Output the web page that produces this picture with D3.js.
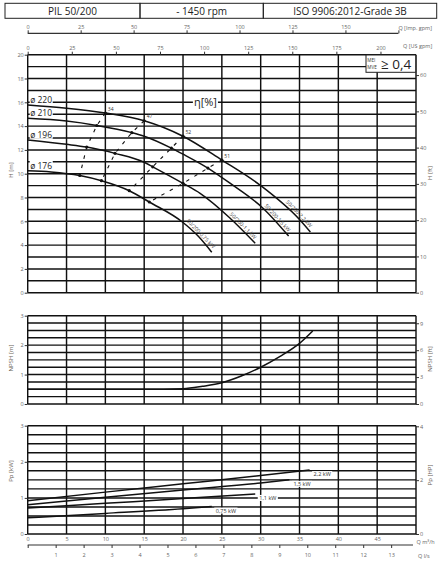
<!DOCTYPE html>
<html>
<head>
<meta charset="utf-8">
<script src="https://cdn.jsdelivr.net/npm/d3@7"></script>
<style>
  body { margin: 0; background: #fff; }
  text { font-family: "Open Sans", sans-serif; }
</style>
</head>
<body>
<div id="chart"></div>
<script>
// ---- data ----
const header = ['PIL 50/200', '- 1450 rpm', 'ISO 9906:2012-Grade 3B'];
const diameters = ['ø 220', 'ø 210', 'ø 196', 'ø 176'];
const motors = ['50/200-2,2 kW', '50/200-1,5 kW', '50/200-1,1 kW', '50/200-0,75 kW'];

// Q [m3/h], H [m]
const head_220 = [[0, 15.77], [5, 15.5], [10, 15.1], [15, 14.45], [20, 13.15], [25, 11.15], [30, 9.0], [35, 6.15], [36.4, 5.1]];
const head_210 = [[0, 14.65], [5, 14.42], [8.9, 14.05], [13.4, 13.45], [15, 13.15], [18.5, 12.15], [20, 11.64], [23.2, 10.47], [26, 9.22], [30.3, 7.1], [33.6, 4.76]];
const head_196 = [[0, 12.83], [5, 12.47], [7.6, 12.24], [11.24, 11.71], [15, 10.96], [16.1, 10.58], [20, 9.19], [22.2, 8.35], [26, 6.3], [29.3, 4.15]];
const head_176 = [[0, 10.25], [3, 10.15], [6.7, 9.85], [9.5, 9.41], [13.08, 8.57], [15.66, 7.62], [20, 5.9], [22, 4.72], [23.7, 3.4]];

// iso-efficiency points (one on each diameter, 220 -> 176)
const eta_values = ['34', '47', '52', '51'];
const eta_34 = [[10, 15.1], [8.9, 14.05], [7.6, 12.24], [6.7, 9.85]];
const eta_47 = [[15, 14.45], [13.4, 13.45], [11.24, 11.71], [9.5, 9.41]];
const eta_52 = [[20, 13.15], [18.5, 12.15], [16.1, 10.58], [13.08, 8.57]];
const eta_51 = [[25, 11.15], [23.2, 10.47], [20, 9.19], [15.66, 7.62]];

// NPSH [m]
const npsh_q = [0, 5, 10, 15, 20, 22.5, 25, 27.5, 30, 32.5, 35, 36.7];
const npsh_m = [0.5, 0.5, 0.5, 0.5, 0.52, 0.6, 0.72, 0.95, 1.25, 1.62, 2.06, 2.48];

// Pp [kW]
const power_labels = ['2,2 kW', '1,5 kW', '1,1 kW', '0,75 kW'];
const power_22 = [[0, 0.92], [10, 1.16], [20, 1.39], [30, 1.62], [36.3, 1.77]];
const power_15 = [[0, 0.81], [10, 1.02], [20, 1.22], [30, 1.41], [33.7, 1.5]];
const power_11 = [[0, 0.72], [10, 0.85], [20, 0.98], [29.3, 1.11]];
const power_075 = [[0, 0.45], [10, 0.57], [20, 0.7], [23.7, 0.76]];

// tick labels
const q_ticks = [0, 5, 10, 15, 20, 25, 30, 35, 40, 45];
const ls_ticks = [0, 1, 2, 3, 4, 5, 6, 7, 8, 9, 10, 11, 12, 13];
const us_ticks = [0, 25, 50, 75, 100, 125, 150, 175, 200];
const imp_ticks = [0, 25, 50, 75, 100, 125, 150, 175];
const h_ticks = [0, 2, 4, 6, 8, 10, 12, 14, 16, 18, 20];
const ft_ticks = [0, 10, 20, 30, 40, 50, 60];
const npsh_ticks = [0, 1, 2, 3];
const npsh_ft_ticks = [0, 3, 6, 9];
const power_ticks = [0, 1, 2, 3];
const hp_ticks = [0, 2, 4];

// ---- layout ----
const width = 446, height = 570;
const font = '"Open Sans", sans-serif';
const tick_color = '#666';
const title_color = '#6b6358';
const plain = d => d;

const svg = d3.select('#chart').append('svg')
    .attr('width', width)
    .attr('height', height);

// scales
const x_scale = d3.scaleLinear().domain([0, 50]).range([27.7, 416]);
const x_us = d3.scaleLinear().domain([0, 50 * 4.40287]).range(x_scale.range());
const x_imp = d3.scaleLinear().domain([0, 50 * 3.66615]).range(x_scale.range());
const x_ls = d3.scaleLinear().domain([0, 50 / 3.6]).range(x_scale.range());

const y_head = d3.scaleLinear().domain([0, 20]).range([292.7, 54.7]);
const y_head_ft = d3.scaleLinear().domain([0, 20 * 3.28084]).range(y_head.range());
const y_npsh = d3.scaleLinear().domain([0, 3]).range([404, 315.7]);
const y_npsh_ft = d3.scaleLinear().domain([0, 3 * 3.28084]).range(y_npsh.range());
const y_power = d3.scaleLinear().domain([0, 3]).range([534, 425.7]);
const y_power_hp = d3.scaleLinear().domain([0, 3 * 1.34102]).range(y_power.range());

// header boxes
const box_edges = [5, 140, 263.3, 436.7];
const head_g = svg.append('g');
header.forEach((t, i) => {
    head_g.append('rect')
        .attr('x', box_edges[i]).attr('y', 3.3)
        .attr('width', box_edges[i + 1] - box_edges[i]).attr('height', 15)
        .attr('fill', 'none').attr('stroke', '#222').attr('stroke-width', 1);
    head_g.append('text')
        .attr('x', (box_edges[i] + box_edges[i + 1]) / 2).attr('y', 14.5)
        .attr('text-anchor', 'middle').attr('font-size', 10).attr('fill', '#222')
        .text(t);
});

// helpers
function style_axis(g) {
    g.select('.domain').remove();
    g.attr('font-family', font);
    g.selectAll('text').attr('font-size', 5.5).attr('fill', tick_color);
    g.selectAll('line').attr('stroke', '#333');
}

function draw_grid(y_scale, step) {
    const [y0, y1] = y_scale.domain();
    const g = svg.append('g').attr('stroke', '#111').attr('stroke-width', 1.45);
    g.selectAll('line.h').data(d3.range(y0, y1 + step / 2, step)).join('line')
        .attr('class', 'h')
        .attr('x1', x_scale(0)).attr('x2', x_scale(50))
        .attr('y1', d => y_scale(d)).attr('y2', d => y_scale(d));
    g.selectAll('line.v').data(d3.range(0, 51, 5)).join('line')
        .attr('class', 'v')
        .attr('x1', d => x_scale(d)).attr('x2', d => x_scale(d))
        .attr('y1', y_scale(y0)).attr('y2', y_scale(y1));
}

function y_title(text, x, y) {
    svg.append('text')
        .attr('transform', `translate(${x},${y}) rotate(-90)`)
        .attr('text-anchor', 'middle').attr('font-size', 6).attr('fill', title_color)
        .text(text);
}

function add_bg(sel, pad) {
    sel.each(function () {
        const b = this.getBBox();
        d3.select(this.parentNode).insert('rect', () => this)
            .attr('x', b.x - pad).attr('y', b.y + 1)
            .attr('width', b.width + 2 * pad).attr('height', b.height - 2)
            .attr('fill', '#fff');
    });
}

// ---- grids ----
draw_grid(y_head, 1);
draw_grid(y_npsh, 0.25);
draw_grid(y_power, 0.25);

// ---- axes ----
// imperial gpm (floating axis)
const imp_g = svg.append('g').attr('transform', 'translate(0,33.3)')
    .call(d3.axisTop(x_imp).tickValues(imp_ticks).tickSize(3).tickPadding(1.5).tickSizeOuter(0)
        .tickFormat(d => d === 175 ? '' : d));
style_axis(imp_g);
imp_g.append('line')
    .attr('x1', x_imp(0)).attr('x2', x_imp(175))
    .attr('stroke', '#333').attr('stroke-width', 1.2);
svg.append('text').attr('x', x_imp(175)).attr('y', 29.5)
    .attr('font-size', 5.5).attr('fill', tick_color).text('Q [Imp. gpm]');

// US gpm on top of head chart
const us_g = svg.append('g').attr('transform', `translate(0,${y_head(20)})`)
    .call(d3.axisTop(x_us).tickValues(us_ticks).tickSize(3).tickPadding(1.5).tickSizeOuter(0).tickFormat(plain));
style_axis(us_g);
svg.append('text').attr('x', 403).attr('y', 48)
    .attr('font-size', 5.5).attr('fill', tick_color).text('Q [US gpm]');

// left / right axes
const left_axes = [[y_head, h_ticks], [y_npsh, npsh_ticks], [y_power, power_ticks]];
left_axes.forEach(([sc, tv]) => {
    const g = svg.append('g').attr('transform', `translate(${x_scale(0)},0)`)
        .call(d3.axisLeft(sc).tickValues(tv).tickSize(3).tickPadding(1).tickSizeOuter(0).tickFormat(plain));
    style_axis(g);
});
const right_axes = [[y_head_ft, ft_ticks], [y_npsh_ft, npsh_ft_ticks], [y_power_hp, hp_ticks]];
right_axes.forEach(([sc, tv]) => {
    const g = svg.append('g').attr('transform', `translate(${x_scale(50)},0)`)
        .call(d3.axisRight(sc).tickValues(tv).tickSize(3).tickPadding(1).tickSizeOuter(0).tickFormat(plain));
    style_axis(g);
});

// bottom: m3/h
const q_g = svg.append('g').attr('transform', `translate(0,${y_power(0)})`)
    .call(d3.axisBottom(x_scale).tickValues(q_ticks).tickSize(0).tickPadding(3.5).tickSizeOuter(0).tickFormat(plain));
style_axis(q_g);
svg.append('text').attr('x', 416.5).attr('y', 543.5)
    .attr('font-size', 5.5).attr('fill', tick_color).text('Q m³/h');

// bottom: l/s
const ls_g = svg.append('g').attr('transform', 'translate(0,545)')
    .call(d3.axisBottom(x_ls).tickValues(ls_ticks).tickSize(3).tickPadding(5).tickSizeOuter(0)
        .tickFormat(d => d === 0 ? '' : d));
style_axis(ls_g);
ls_g.append('line')
    .attr('x1', x_ls(0)).attr('x2', 413)
    .attr('stroke', '#333').attr('stroke-width', 1.2);
svg.append('text').attr('x', 418).attr('y', 557.5)
    .attr('font-size', 5.5).attr('fill', tick_color).text('Q l/s');

// axis titles
y_title('H [m]', 13, 170);
y_title('H [ft]', 432, 173);
y_title('NPSH [m]', 13, 358);
y_title('NPSH [ft]', 432, 359);
y_title('Pp [kW]', 13, 471);
y_title('Pp [HP]', 432, 475);

// ---- head curves ----
const head_curves = [head_220, head_210, head_196, head_176];
const line_head = d3.line()
    .x(d => x_scale(d[0]))
    .y(d => y_head(d[1]))
    .curve(d3.curveMonotoneX);

const curve_g = svg.append('g');
head_curves.forEach((c, i) => {
    const path = curve_g.append('path')
        .datum(c)
        .attr('fill', 'none')
        .attr('stroke', '#111')
        .attr('stroke-width', 1.5)
        .attr('d', line_head);

    // motor label along the end of the curve
    const node = path.node();
    const L = node.getTotalLength();
    const p = node.getPointAtLength(L - 21);
    const p1 = node.getPointAtLength(L - 30);
    const p2 = node.getPointAtLength(L - 12);
    const a = Math.atan2(p2.y - p1.y, p2.x - p1.x);
    const ox = p.x + Math.sin(a) * 1.8;
    const oy = p.y - Math.cos(a) * 1.8;
    curve_g.append('text')
        .attr('transform', `translate(${ox},${oy}) rotate(${a * 180 / Math.PI})`)
        .attr('text-anchor', 'middle')
        .attr('font-size', 5.3)
        .attr('fill', '#444')
        .text(motors[i]);

    // diameter label at the start
    const t = curve_g.append('text')
        .attr('x', x_scale(0) + 2.5)
        .attr('y', y_head(c[0][1]) - 2.2)
        .attr('font-size', 8.5)
        .attr('fill', '#222')
        .text(diameters[i]);
    add_bg(t, 0.5);
});

// ---- iso-efficiency ----
const eta_lines = [eta_34, eta_47, eta_52, eta_51];
const line_eta = d3.line()
    .x(d => x_scale(d[0]))
    .y(d => y_head(d[1]));
const eta_g = svg.append('g');
eta_lines.forEach((pts, i) => {
    eta_g.append('path')
        .datum(pts)
        .attr('fill', 'none')
        .attr('stroke', '#111')
        .attr('stroke-width', 1.1)
        .attr('stroke-dasharray', '3.5,6')
        .attr('d', line_eta);
    eta_g.selectAll(null).data(pts).join('circle')
        .attr('cx', d => x_scale(d[0]))
        .attr('cy', d => y_head(d[1]))
        .attr('r', 1.6)
        .attr('fill', '#111');
    eta_g.append('text')
        .attr('x', x_scale(pts[0][0]) + 2.5)
        .attr('y', y_head(pts[0][1]) - 2.5)
        .attr('font-size', 5)
        .attr('fill', '#333')
        .text(eta_values[i]);
});

const eta_title = svg.append('text')
    .attr('x', x_scale(21.4))
    .attr('y', y_head(16) + 4)
    .attr('font-size', 11)
    .attr('fill', '#222')
    .text('η[%]');
add_bg(eta_title, 1);

// MEI box
const mei = svg.append('g');
mei.append('rect')
    .attr('x', 366).attr('y', 55).attr('width', 49.7).attr('height', 17.3)
    .attr('fill', '#fff').attr('stroke', '#222').attr('stroke-width', 1);
mei.append('text').attr('x', 367.3).attr('y', 62).attr('font-size', 4.6).attr('fill', '#333').text('MEI');
mei.append('text').attr('x', 367.3).attr('y', 68.5).attr('font-size', 4.6).attr('fill', '#333').text('MVE');
mei.append('text').attr('x', 381).attr('y', 68.6).attr('font-size', 13.5).attr('fill', '#222').text('≥ 0,4');

// ---- NPSH ----
const npsh_data = npsh_q.map((q, i) => [q, npsh_m[i]]);
svg.append('path')
    .datum(npsh_data)
    .attr('fill', 'none')
    .attr('stroke', '#111')
    .attr('stroke-width', 1.5)
    .attr('d', d3.line()
        .x(d => x_scale(d[0]))
        .y(d => y_npsh(d[1]))
        .curve(d3.curveMonotoneX));

// ---- power ----
const power_curves = [power_22, power_15, power_11, power_075];
const line_power = d3.line()
    .x(d => x_scale(d[0]))
    .y(d => y_power(d[1]))
    .curve(d3.curveMonotoneX);
const power_g = svg.append('g');
power_curves.forEach((c, i) => {
    power_g.append('path')
        .datum(c)
        .attr('fill', 'none')
        .attr('stroke', '#111')
        .attr('stroke-width', 1.5)
        .attr('d', line_power);
    const last = c[c.length - 1];
    const t = power_g.append('text')
        .attr('x', x_scale(last[0]) + 4)
        .attr('y', y_power(last[1]) + 6)
        .attr('font-size', 5.5)
        .attr('fill', '#333')
        .text(power_labels[i]);
    add_bg(t, 1.5);
});
</script>
</body>
</html>
